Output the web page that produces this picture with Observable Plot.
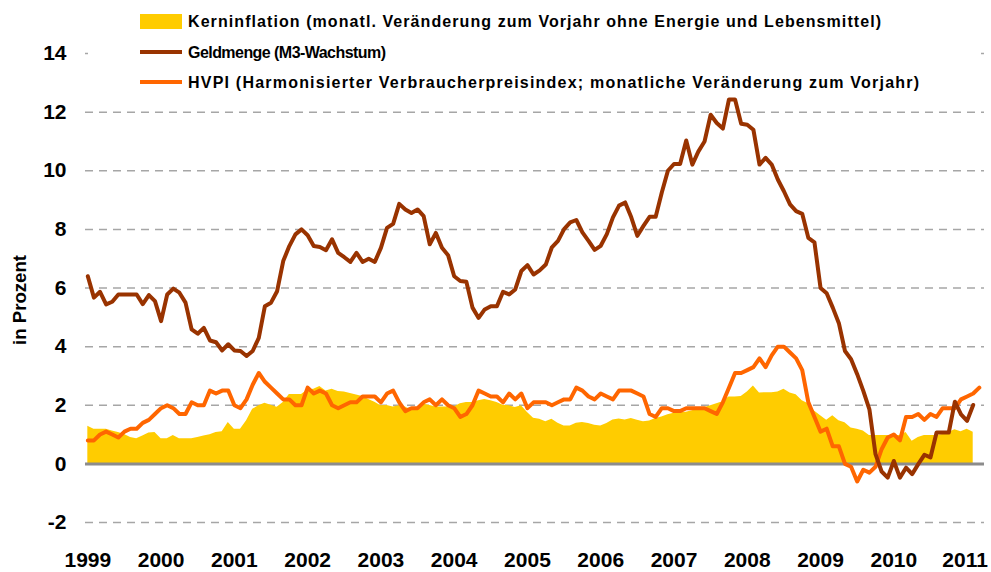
<!DOCTYPE html>
<html><head><meta charset="utf-8">
<script src="https://cdn.jsdelivr.net/npm/d3@7"></script>
<script src="https://cdn.jsdelivr.net/npm/@observablehq/plot@0.6"></script>
<style>
html,body{margin:0;padding:0;background:#fff;}
#chart{position:relative;width:991px;height:572px;overflow:hidden;}
#chart svg{position:absolute;left:0;top:0;}
</style></head><body><div id="chart"></div>
<script>
// Tick labels
const years = [1999,2000,2001,2002,2003,2004,2005,2006,2007,2008,2009,2010,2011];
const yTicks = [-2,0,2,4,6,8,10,12,14];

// Series names / legend texts
const labels = {
  core: "Kerninflation (monatl. Veränderung zum Vorjahr ohne Energie und Lebensmittel)",
  m3: "Geldmenge (M3-Wachstum)",
  hvpi: "HVPI (Harmonisierter Verbraucherpreisindex; monatliche Veränderung zum Vorjahr)"
};

// Monthly values from Jan 1999
const m3 = [
 6.4,5.67,5.87,5.44,5.53,5.78,5.78,5.78,5.78,5.45,5.76,5.55,
 4.87,5.78,5.98,5.84,5.5,4.59,4.44,4.64,4.21,4.15,3.87,4.08,
 3.87,3.85,3.68,3.85,4.3,5.38,5.5,5.89,6.92,7.43,7.83,8.0,
 7.8,7.43,7.4,7.29,7.66,7.2,7.05,6.89,7.2,6.89,7.0,6.89,
 7.37,8.05,8.19,8.87,8.68,8.56,8.68,8.45,7.49,7.88,7.37,7.12,
 6.4,6.24,6.21,5.33,4.98,5.27,5.38,5.38,5.87,5.78,5.95,6.58,
 6.78,6.46,6.6,6.8,7.39,7.61,8.01,8.24,8.32,7.9,7.61,7.3,
 7.44,7.84,8.41,8.81,8.92,8.41,7.78,8.12,8.43,8.43,9.26,10.0,
 10.23,10.23,11.03,10.21,10.66,11.0,11.91,11.63,11.44,12.43,12.43,11.6,
 11.57,11.4,10.21,10.44,10.21,9.7,9.3,8.85,8.62,8.53,7.71,7.56,
 6.0,5.82,5.33,4.8,3.85,3.57,3.06,2.49,1.86,0.33,-0.26,-0.47,
 0.1,-0.47,-0.13,-0.35,-0.01,0.31,0.22,1.07,1.07,1.07,2.12,1.69,
 1.47,2.01
];
const hvpi = [
 0.8,0.8,1.0,1.1,1.0,0.9,1.1,1.2,1.2,1.4,1.5,1.7,
 1.9,2.0,1.9,1.7,1.7,2.1,2.0,2.0,2.5,2.4,2.5,2.5,
 2.0,1.9,2.2,2.7,3.1,2.8,2.6,2.4,2.2,2.2,2.0,2.0,
 2.6,2.4,2.5,2.4,2.0,1.9,2.0,2.1,2.1,2.3,2.3,2.3,
 2.1,2.4,2.5,2.1,1.8,1.9,1.9,2.1,2.2,2.0,2.2,2.0,
 1.9,1.6,1.7,2.0,2.5,2.4,2.3,2.3,2.1,2.4,2.2,2.4,
 1.9,2.1,2.1,2.1,2.0,2.1,2.2,2.2,2.6,2.5,2.3,2.2,
 2.4,2.3,2.2,2.5,2.5,2.5,2.4,2.3,1.7,1.6,1.9,1.9,
 1.8,1.8,1.9,1.9,1.9,1.9,1.8,1.7,2.1,2.6,3.1,3.1,
 3.2,3.3,3.6,3.3,3.7,4.0,4.0,3.8,3.6,3.2,2.1,1.6,
 1.1,1.2,0.6,0.6,0.0,-0.1,-0.6,-0.2,-0.3,-0.1,0.5,0.9,
 1.0,0.8,1.6,1.6,1.7,1.5,1.7,1.6,1.9,1.9,1.9,2.2,
 2.3,2.4,2.6
];
const core = [
 1.28,1.18,1.18,1.18,1.12,1.07,1.0,0.9,0.86,0.95,1.05,1.07,
 0.86,0.86,0.97,0.86,0.86,0.86,0.9,0.95,0.99,1.07,1.1,1.41,
 1.18,1.18,1.47,1.86,1.98,2.07,2.0,1.93,2.09,2.37,2.37,2.37,
 2.52,2.55,2.64,2.49,2.55,2.47,2.45,2.4,2.35,2.3,2.2,2.1,
 1.98,1.99,1.94,1.98,1.94,1.83,1.92,2.03,1.99,1.94,1.94,1.94,
 1.94,2.05,2.09,2.09,2.15,2.2,2.15,2.09,2.0,1.98,1.92,1.98,
 1.75,1.56,1.52,1.44,1.52,1.39,1.29,1.29,1.39,1.41,1.38,1.32,
 1.29,1.38,1.5,1.53,1.5,1.55,1.49,1.44,1.46,1.55,1.6,1.68,
 1.73,1.75,1.76,1.81,1.86,1.92,1.98,2.05,2.12,2.28,2.28,2.3,
 2.45,2.66,2.42,2.43,2.43,2.45,2.55,2.42,2.36,2.15,2.05,1.8,
 1.64,1.49,1.64,1.47,1.4,1.22,1.18,1.12,0.97,0.97,0.97,0.97,
 0.97,0.97,1.07,0.77,0.9,0.97,0.97,0.97,1.0,1.07,1.16,1.1,
 1.18,1.08
];

const colors = {core: "#FFCC00", m3: "#993300", hvpi: "#FF6600", grid: "#a6a6a6", zero: "#8c8c8c"};
const FONT = '"Liberation Sans","DejaVu Sans",sans-serif';

const rows = arr => arr.map((v, i) => ({t: i, v}));

const chart = Plot.plot({
  width: 991, height: 572,
  marginLeft: 85, marginRight: 7, marginTop: 53, marginBottom: 50,
  style: {fontFamily: FONT, fontWeight: "bold", fontSize: "21px", color: "#000", background: "transparent"},
  x: {domain: [-0.38, 146.85], ticks: years.map(y => (y - 1999) * 12), tickFormat: t => String(1999 + t / 12), tickSize: 0, tickPadding: 30, label: null},
  y: {domain: [-2, 14], ticks: yTicks, tickFormat: d => String(d), tickSize: 0, tickPadding: 19, label: null},
  marks: [
    Plot.ruleY(yTicks.filter(d => d !== 0), {stroke: colors.grid, strokeWidth: 1.5, strokeDasharray: "8,6"}),
    Plot.areaY(rows(core), {x: "t", y: "v", fill: colors.core}),
    Plot.ruleY([0], {stroke: colors.zero, strokeWidth: 3}),
    Plot.lineY(rows(hvpi), {x: "t", y: "v", stroke: colors.hvpi, strokeWidth: 4}),
    Plot.lineY(rows(m3), {x: "t", y: "v", stroke: colors.m3, strokeWidth: 4})
  ]
});
const host = document.getElementById("chart");
host.appendChild(chart);

// keep the last year label fully inside the picture
d3.select(chart).selectAll('g[aria-label="x-axis tick label"] text').each(function () {
  if (this.textContent === "2011") this.setAttribute("dx", "-2");
});

// Legend + axis title overlay
const ov = d3.create("svg").attr("width", 991).attr("height", 572)
  .style("pointer-events", "none")
  .attr("font-family", FONT).attr("font-weight", "bold");
ov.append("rect").attr("x", 88).attr("y", 0).attr("width", 887).attr("height", 95).attr("fill", "#fff");
const items = [
  {key: "core", y: 21, w: 693},
  {key: "m3", y: 52, w: 198},
  {key: "hvpi", y: 82, w: 731}
];
for (const it of items) {
  if (it.key === "core") {
    ov.append("rect").attr("x", 140).attr("y", it.y - 7).attr("width", 42).attr("height", 15).attr("fill", colors.core);
  } else {
    ov.append("line").attr("x1", 140).attr("x2", 182).attr("y1", it.y).attr("y2", it.y)
      .attr("stroke", colors[it.key]).attr("stroke-width", 4);
  }
  ov.append("text").attr("x", 188).attr("y", it.y).attr("dy", "0.35em")
    .attr("font-size", 16).attr("fill", "#000")
    .attr("textLength", it.w).attr("lengthAdjust", "spacing")
    .text(labels[it.key]);
}
ov.append("text").attr("transform", "translate(19,300) rotate(-90)")
  .attr("text-anchor", "middle").attr("dy", "0.35em")
  .attr("font-size", 19).attr("fill", "#000")
  .attr("textLength", 90).attr("lengthAdjust", "spacingAndGlyphs")
  .text("in Prozent");
host.appendChild(ov.node());
</script></body></html>
